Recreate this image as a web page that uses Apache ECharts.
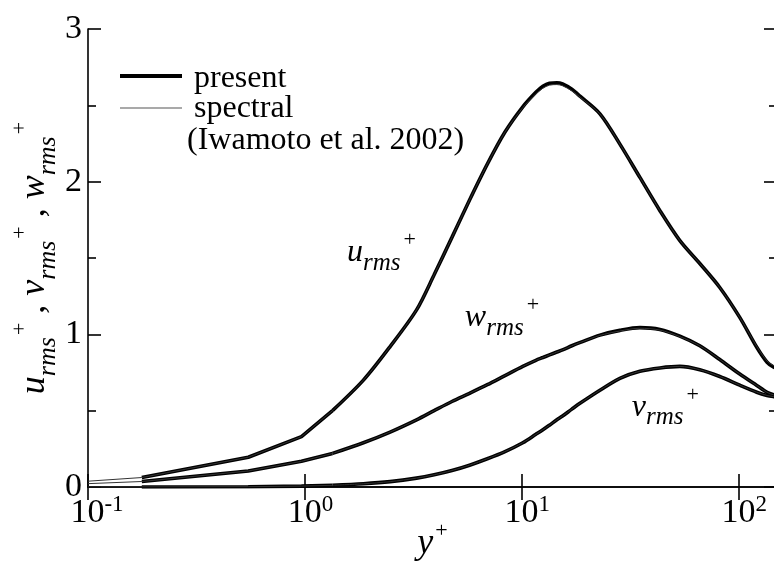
<!DOCTYPE html>
<html><head><meta charset="utf-8">
<script src="https://cdn.jsdelivr.net/npm/echarts@6/dist/echarts.min.js"></script>
<style>html,body{margin:0;padding:0;background:#fff}#c{width:774px;height:567px}</style>
</head><body><div id="c"></div>
<script>
// ---- data ----
const yPlusPresent = [0.177, 0.548, 0.964, 1.34, 1.86, 2.47, 3.27, 3.94, 4.76, 5.74, 6.93, 8.36, 10.1, 11.6, 12.5, 13.4, 14.5, 15.4, 17.0, 18.6, 22.9, 28.3, 35.0, 43.3, 53.5, 66.1, 81.7, 101, 121, 135, 145, 150];
const uPresent = [0.062, 0.195, 0.33, 0.50, 0.70, 0.92, 1.16, 1.39, 1.635, 1.88, 2.115, 2.325, 2.49, 2.585, 2.625, 2.645, 2.648, 2.64, 2.605, 2.558, 2.444, 2.246, 2.028, 1.81, 1.614, 1.464, 1.307, 1.111, 0.915, 0.817, 0.784, 0.78];
const wPresent = [0.036, 0.105, 0.168, 0.22, 0.29, 0.36, 0.44, 0.50, 0.56, 0.614, 0.67, 0.73, 0.79, 0.83, 0.848, 0.865, 0.884, 0.898, 0.925, 0.947, 0.995, 1.026, 1.044, 1.032, 0.988, 0.925, 0.835, 0.74, 0.665, 0.62, 0.603, 0.60];
const vPresent = [0.0003, 0.002, 0.006, 0.011, 0.021, 0.035, 0.058, 0.08, 0.108, 0.143, 0.185, 0.232, 0.29, 0.345, 0.375, 0.405, 0.44, 0.465, 0.51, 0.55, 0.634, 0.712, 0.758, 0.780, 0.790, 0.768, 0.724, 0.667, 0.621, 0.600, 0.592, 0.59];

const yPlusSpectral = [0.1, 0.177, 0.548, 0.964, 1.34, 1.86, 2.47, 3.27, 3.94, 4.76, 5.74, 6.93, 8.36, 10.1, 11.6, 12.5, 13.4, 14.5, 15.4, 17.0, 18.6, 22.9, 28.3, 35.0, 43.3, 53.5, 66.1, 81.7, 101, 121, 135, 145, 150];
const uSpectral = [0.038, 0.062, 0.195, 0.33, 0.50, 0.70, 0.92, 1.16, 1.39, 1.635, 1.88, 2.115, 2.325, 2.485, 2.575, 2.612, 2.632, 2.636, 2.628, 2.595, 2.552, 2.444, 2.246, 2.028, 1.81, 1.614, 1.464, 1.307, 1.111, 0.92, 0.825, 0.795, 0.79];
const wSpectral = [0.022, 0.036, 0.105, 0.168, 0.22, 0.29, 0.36, 0.44, 0.50, 0.56, 0.614, 0.67, 0.73, 0.79, 0.83, 0.848, 0.865, 0.884, 0.898, 0.925, 0.947, 0.993, 1.022, 1.040, 1.028, 0.985, 0.925, 0.835, 0.74, 0.665, 0.62, 0.603, 0.60];
const vSpectral = [0.0001, 0.0003, 0.002, 0.006, 0.011, 0.021, 0.035, 0.058, 0.08, 0.108, 0.143, 0.185, 0.232, 0.29, 0.345, 0.375, 0.405, 0.44, 0.465, 0.51, 0.55, 0.634, 0.712, 0.758, 0.780, 0.790, 0.768, 0.724, 0.667, 0.621, 0.600, 0.592, 0.59];

const yTickValues = [0, 1, 2, 3];
const legendLabels = ['present', 'spectral', '(Iwamoto et al. 2002)'];
const annotations = [
  { main: 'u', at: [1.562, 1.464] },
  { main: 'w', at: [5.46, 1.039] },
  { main: 'v', at: [32.1, 0.451] }
];
const coarseGridEnd = 1.34; // near-wall grid points joined by straight segments

// ---- chart ----
const FONT = "'Liberation Serif', 'Times New Roman', serif";
const pair = (xs, ys) => xs.map((x, i) => [x, ys[i]]);
const chart = echarts.init(document.getElementById('c'), null, { renderer: 'canvas' });

const axisLine = { show: true, lineStyle: { color: '#000', width: 1.6 } };
const tickStyle = { color: '#000', width: 1.6 };

function xLabel(v) {
  const e = String(Math.round(Math.log10(v)));
  return '{g' + (e.length > 1 ? '2' : '1') + '|}{b|10}{s|' + e + '}';
}

const thick = { color: '#000', width: 3.6 };
const thin = { color: '#333', width: 1 };
function lineSeries(name, xs, ys, style, z) {
  const pts = pair(xs, ys);
  const base = { type: 'line', showSymbol: false, symbol: 'none', lineStyle: style, z, silent: true, animation: false };
  return [
    Object.assign({}, base, { name: name, data: pts.filter(p => p[0] <= coarseGridEnd), smooth: false }),
    Object.assign({}, base, { name: name + ' (outer)', data: pts.filter(p => p[0] >= coarseGridEnd), smooth: 0.3 })
  ];
}

const option = {
  animation: false,
  backgroundColor: '#fff',
  grid: { left: 88, top: 29, width: 689, height: 458, containLabel: false, outerBoundsMode: 'none' },
  xAxis: [
    { type: 'log', logBase: 10, min: 0.1, max: 150, position: 'bottom',
      axisLine, axisTick: { show: true, inside: true, length: 13, lineStyle: tickStyle },
      minorTick: { show: false }, splitLine: { show: false },
      axisLabel: { show: true, margin: 6, color: '#000', formatter: xLabel,
        rich: {
          g1: { width: 11 }, g2: { width: 18 },
          b: { fontFamily: FONT, fontSize: 34, lineHeight: 40, verticalAlign: 'middle', color: '#000' },
          s: { fontFamily: FONT, fontSize: 23, lineHeight: 26, verticalAlign: 'top', color: '#000' }
        } },
      name: '{m|y}{p|+}', nameLocation: 'middle', nameGap: 33, nameMoveOverlap: false,
      nameTextStyle: { color: '#000', rich: {
        m: { fontFamily: FONT, fontStyle: 'italic', fontSize: 36, lineHeight: 48, verticalAlign: 'middle', color: '#000' },
        p: { fontFamily: FONT, fontSize: 22, lineHeight: 21, verticalAlign: 'top', padding: [0, 0, 0, 2], color: '#000' }
      } } },
    { type: 'log', logBase: 10, min: 0.1, max: 150, position: 'top',
      axisLine, axisTick: { show: true, inside: true, length: 13, lineStyle: tickStyle },
      minorTick: { show: false }, splitLine: { show: false }, axisLabel: { show: false } }
  ],
  yAxis: [
    { type: 'value', min: yTickValues[0], max: yTickValues[yTickValues.length - 1], interval: 1, position: 'left',
      axisLine, axisTick: { show: true, inside: true, length: 13, lineStyle: tickStyle },
      minorTick: { show: true, splitNumber: 2, length: 8, lineStyle: tickStyle },
      splitLine: { show: false },
      axisLabel: { show: true, margin: 6, color: '#000', fontFamily: FONT, fontSize: 34 },
      name: '{m|u}{s|rms}{p|+}{c| , }{m|v}{s|rms}{p|+}{c| , }{m|w}{s|rms}{p|+}',
      nameLocation: 'middle', nameRotate: 90, nameGap: 27, nameMoveOverlap: false,
      nameTextStyle: { color: '#000', rich: {
        m: { fontFamily: FONT, fontStyle: 'italic', fontSize: 36, lineHeight: 52, verticalAlign: 'middle', color: '#000' },
        s: { fontFamily: FONT, fontStyle: 'italic', fontSize: 26, lineHeight: 29, verticalAlign: 'bottom', color: '#000' },
        p: { fontFamily: FONT, fontSize: 22, lineHeight: 19, verticalAlign: 'top', padding: [0, 0, 0, 2], color: '#000' },
        c: { fontFamily: FONT, fontSize: 36, lineHeight: 52, verticalAlign: 'middle', color: '#000' }
      } } },
    { type: 'value', min: yTickValues[0], max: yTickValues[yTickValues.length - 1], interval: 1, position: 'right',
      axisLine, axisTick: { show: true, inside: true, length: 13, lineStyle: tickStyle },
      minorTick: { show: true, splitNumber: 2, length: 8, lineStyle: tickStyle },
      splitLine: { show: false }, axisLabel: { show: false } }
  ],
  series: [].concat(
    lineSeries('u present', yPlusPresent, uPresent, thick, 2),
    lineSeries('w present', yPlusPresent, wPresent, thick, 2),
    lineSeries('v present', yPlusPresent, vPresent, thick, 2),
    lineSeries('u spectral', yPlusSpectral, uSpectral, thin, 3),
    lineSeries('w spectral', yPlusSpectral, wSpectral, thin, 3),
    lineSeries('v spectral', yPlusSpectral, vSpectral, thin, 3)
  )
};
chart.setOption(option);

// legend and curve annotations (text)
const annRich = {
  m: { fontFamily: FONT, fontStyle: 'italic', fontSize: 32, lineHeight: 46, verticalAlign: 'middle', fill: '#000' },
  s: { fontFamily: FONT, fontStyle: 'italic', fontSize: 25, lineHeight: 23, verticalAlign: 'bottom', fill: '#000' },
  p: { fontFamily: FONT, fontSize: 22, lineHeight: 14, verticalAlign: 'top', padding: [0, 0, 0, 3], fill: '#000' }
};
const graphics = [];
annotations.forEach(a => {
  const p = chart.convertToPixel({ xAxisIndex: 0, yAxisIndex: 0 }, a.at);
  graphics.push({ type: 'text', x: p[0], y: p[1] - 33.8, silent: true, z: 10,
    style: { text: '{m|' + a.main + '}{s|rms}{p|+}', rich: annRich, align: 'left', verticalAlign: 'top', fill: '#000' } });
});
graphics.push(
  { type: 'line', shape: { x1: 120, y1: 76, x2: 182, y2: 76 }, style: { stroke: '#000', lineWidth: 4 }, silent: true },
  { type: 'line', shape: { x1: 120, y1: 108, x2: 182, y2: 108 }, style: { stroke: '#555', lineWidth: 1.2 }, silent: true },
  { type: 'text', x: 194, y: 89 - 10.8, style: { text: legendLabels[0], font: '32px ' + FONT, fill: '#000', verticalAlign: 'middle', align: 'left' }, silent: true },
  { type: 'text', x: 194, y: 119 - 10.8, style: { text: legendLabels[1], font: '32px ' + FONT, fill: '#000', verticalAlign: 'middle', align: 'left' }, silent: true },
  { type: 'text', x: 187, y: 151 - 10.8, style: { text: legendLabels[2], font: '32px ' + FONT, fill: '#000', verticalAlign: 'middle', align: 'left' }, silent: true }
);
chart.setOption({ graphic: graphics });
</script>
</body></html>
